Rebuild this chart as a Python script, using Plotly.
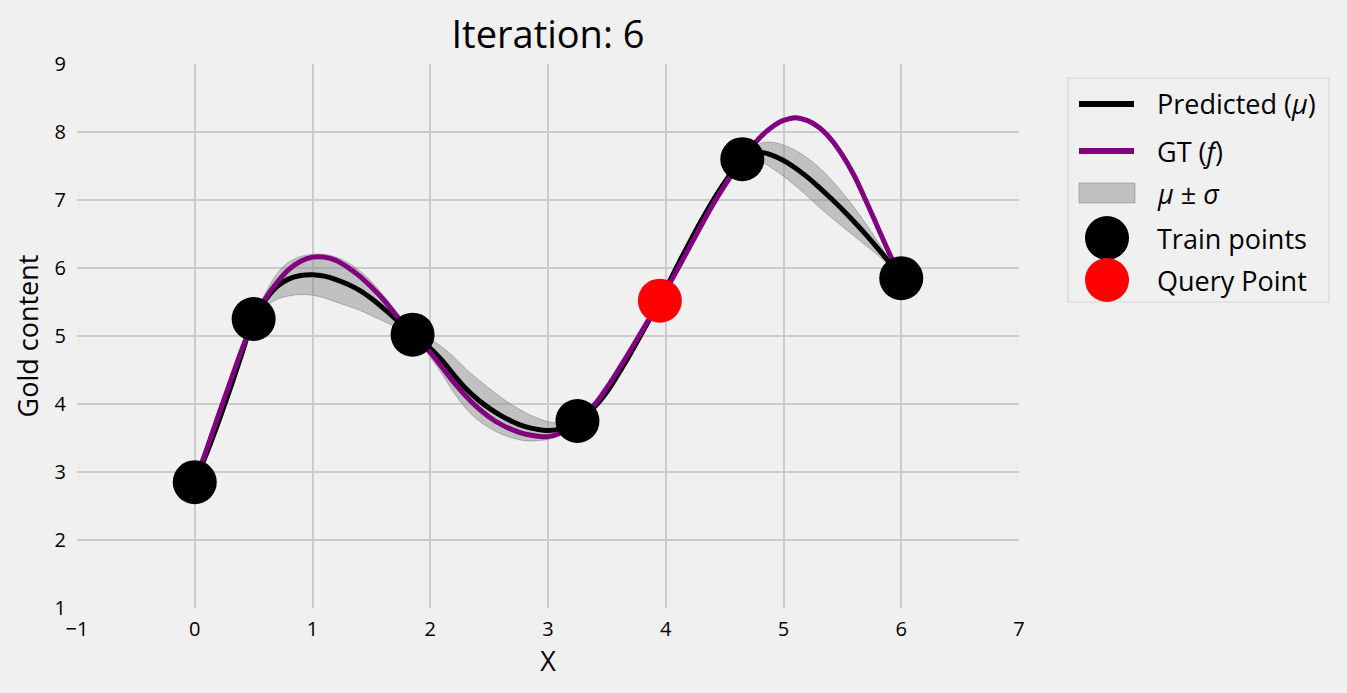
import plotly.graph_objects as go

# ---------------- data ----------------
gt_x = [0.0, 0.1, 0.2, 0.3, 0.4, 0.5, 0.6, 0.7, 0.8, 0.9, 1.0, 1.1, 1.2, 1.3,
        1.4, 1.5, 1.6, 1.7, 1.85, 2.0, 2.1, 2.2, 2.3, 2.4, 2.5, 2.6, 2.7, 2.8,
        2.9, 3.0, 3.1, 3.25, 3.4, 3.5, 3.6, 3.7, 3.8, 3.95, 4.1, 4.2, 4.3, 4.4,
        4.5, 4.65, 4.8, 4.9, 5.0, 5.1, 5.2, 5.3, 5.4, 5.5, 5.6, 5.7, 5.8, 5.9,
        6.0]
gt_y = [2.85, 3.33, 3.83, 4.32, 4.80, 5.23, 5.55, 5.79, 5.98, 6.10, 6.16, 6.16,
        6.11, 6.01, 5.88, 5.72, 5.54, 5.33, 5.02, 4.76, 4.54, 4.32, 4.12, 3.95,
        3.81, 3.70, 3.62, 3.56, 3.53, 3.52, 3.57, 3.75, 4.00, 4.24, 4.51, 4.79,
        5.08, 5.52, 5.98, 6.30, 6.62, 6.93, 7.21, 7.60, 7.92, 8.07, 8.17, 8.21,
        8.17, 8.07, 7.90, 7.66, 7.36, 6.99, 6.60, 6.21, 5.85]

mu_x = gt_x
mu_y = [2.85, 3.27, 3.73, 4.22, 4.74, 5.25, 5.53, 5.73, 5.84, 5.89, 5.90, 5.88,
        5.83, 5.76, 5.67, 5.55, 5.41, 5.26, 5.02, 4.82, 4.64, 4.43, 4.23, 4.07,
        3.94, 3.83, 3.74, 3.67, 3.63, 3.61, 3.63, 3.75, 3.97, 4.18, 4.45, 4.74,
        5.05, 5.52, 6.04, 6.37, 6.69, 6.99, 7.26, 7.60, 7.70, 7.66, 7.58, 7.47,
        7.34, 7.19, 7.03, 6.86, 6.68, 6.49, 6.29, 6.08, 5.85]
sigma = [0.00, 0.03, 0.04, 0.04, 0.03, 0.00, 0.10, 0.19, 0.25, 0.28, 0.30, 0.32,
         0.33, 0.32, 0.29, 0.25, 0.19, 0.12, 0.00, 0.13, 0.20, 0.26, 0.29, 0.30,
         0.29, 0.27, 0.24, 0.21, 0.17, 0.13, 0.09, 0.00, 0.05, 0.06, 0.06, 0.05,
         0.05, 0.04, 0.05, 0.05, 0.05, 0.05, 0.04, 0.00, 0.13, 0.19, 0.23, 0.26,
         0.28, 0.29, 0.28, 0.25, 0.21, 0.16, 0.10, 0.05, 0.00]

train_x = [0.00, 0.50, 1.85, 3.25, 4.65, 6.00]
train_y = [2.85, 5.25, 5.02, 3.75, 7.60, 5.85]
query_x = [3.95]
query_y = [5.52]

x_ticks = [-1, 0, 1, 2, 3, 4, 5, 6, 7]
y_ticks = [1, 2, 3, 4, 5, 6, 7, 8, 9]

title_text = "Iteration: 6"
legend_labels = ["Predicted (<i>μ</i>)", "GT (<i>f</i>)", "<i>μ</i> ± <i>σ</i>",
                 "Train points", "Query Point"]

# ---------------- styling ----------------
BG = "#f0f0f0"
GRID = "#cbcbcb"
FONT = "Open Sans"
PURPLE = "#800080"
BAND = "rgba(128,128,128,0.42)"
BAND_EDGE = "rgba(110,110,110,0.45)"

upper = [m + s for m, s in zip(mu_y, sigma)]
lower = [m - s for m, s in zip(mu_y, sigma)]

fig = go.Figure()
fig.add_trace(go.Scatter(x=mu_x, y=lower, mode="lines",
                         line=dict(color=BAND_EDGE, width=1, shape="spline"),
                         showlegend=False, hoverinfo="skip"))
fig.add_trace(go.Scatter(x=mu_x, y=upper, mode="lines", name="μ ± σ",
                         fill="tonexty", fillcolor=BAND,
                         line=dict(color=BAND_EDGE, width=1, shape="spline"),
                         showlegend=False))
fig.add_trace(go.Scatter(x=mu_x, y=mu_y, mode="lines", name="Predicted (μ)",
                         line=dict(color="black", width=5, shape="spline"),
                         showlegend=False))
fig.add_trace(go.Scatter(x=gt_x, y=gt_y, mode="lines", name="GT (f)",
                         line=dict(color=PURPLE, width=5, shape="spline"),
                         showlegend=False))
fig.add_trace(go.Scatter(x=train_x, y=train_y, mode="markers", name="Train points",
                         marker=dict(color="black", size=44), showlegend=False))
fig.add_trace(go.Scatter(x=query_x, y=query_y, mode="markers", name="Query Point",
                         marker=dict(color="red", size=44), showlegend=False))

# ---------------- manual legend (matplotlib-like) ----------------
L, T, PW, PH = 77, 64, 942, 544
def px(xp):
    return (xp - L) / PW
def py(yp):
    return (T + PH - yp) / PH

shapes = []
shapes.append(dict(type="rect", xref="paper", yref="paper",
                   x0=px(1068), x1=px(1329), y0=py(302), y1=py(78),
                   line=dict(color="#d6d6d6", width=1.2), fillcolor=BG, layer="above"))
row_y = [104, 151, 193, 238, 280]
shapes.append(dict(type="line", xref="paper", yref="paper",
                   x0=px(1079), x1=px(1134), y0=py(row_y[0]), y1=py(row_y[0]),
                   line=dict(color="black", width=6), layer="above"))
shapes.append(dict(type="line", xref="paper", yref="paper",
                   x0=px(1079), x1=px(1134), y0=py(row_y[1]), y1=py(row_y[1]),
                   line=dict(color=PURPLE, width=6), layer="above"))
shapes.append(dict(type="rect", xref="paper", yref="paper",
                   x0=px(1079), x1=px(1135), y0=py(row_y[2] + 10), y1=py(row_y[2] - 10),
                   line=dict(color="rgba(128,128,128,0.5)", width=1),
                   fillcolor=BAND, layer="above"))
for ry, col in [(row_y[3], "black"), (row_y[4], "red")]:
    shapes.append(dict(type="circle", xref="paper", yref="paper",
                       xsizemode="pixel", ysizemode="pixel",
                       xanchor=px(1107), yanchor=py(ry),
                       x0=-22, x1=22, y0=-22, y1=22,
                       line=dict(width=0), fillcolor=col, layer="above"))

annotations = []
for lab, ry in zip(legend_labels, row_y):
    annotations.append(dict(text=lab, xref="paper", yref="paper",
                            x=px(1155), y=py(ry), xanchor="left", yanchor="middle",
                            showarrow=False, font=dict(family=FONT, size=27, color="black")))

fig.update_layout(
    width=1347, height=693,
    margin=dict(l=L, r=1347 - L - PW, t=T, b=693 - T - PH, pad=0),
    paper_bgcolor=BG, plot_bgcolor=BG,
    font=dict(family=FONT, color="black"),
    title=dict(text=title_text, x=0.5, xref="paper", xanchor="center",
               y=1 - 35 / 693, yref="container", yanchor="middle",
               font=dict(family=FONT, size=38, color="black")),
    xaxis=dict(range=[-1, 7], tickvals=x_ticks, showgrid=True, gridcolor=GRID,
               gridwidth=2, zeroline=False, showline=False, ticks="",
               ticklabelstandoff=7, tickfont=dict(size=20, color="black"),
               title=dict(text="X", font=dict(size=27, color="black"), standoff=10)),
    yaxis=dict(range=[1, 9], tickvals=y_ticks, showgrid=True, gridcolor=GRID,
               gridwidth=2, zeroline=False, showline=False, ticks="",
               ticklabelstandoff=10, tickfont=dict(size=20, color="black"),
               title=dict(text="Gold content", font=dict(size=27, color="black"),
                          standoff=8)),
    shapes=shapes, annotations=annotations,
    showlegend=False,
)

fig.write_html("out.html", config={"displayModeBar": False},
               post_script="document.body.style.margin='0';")
